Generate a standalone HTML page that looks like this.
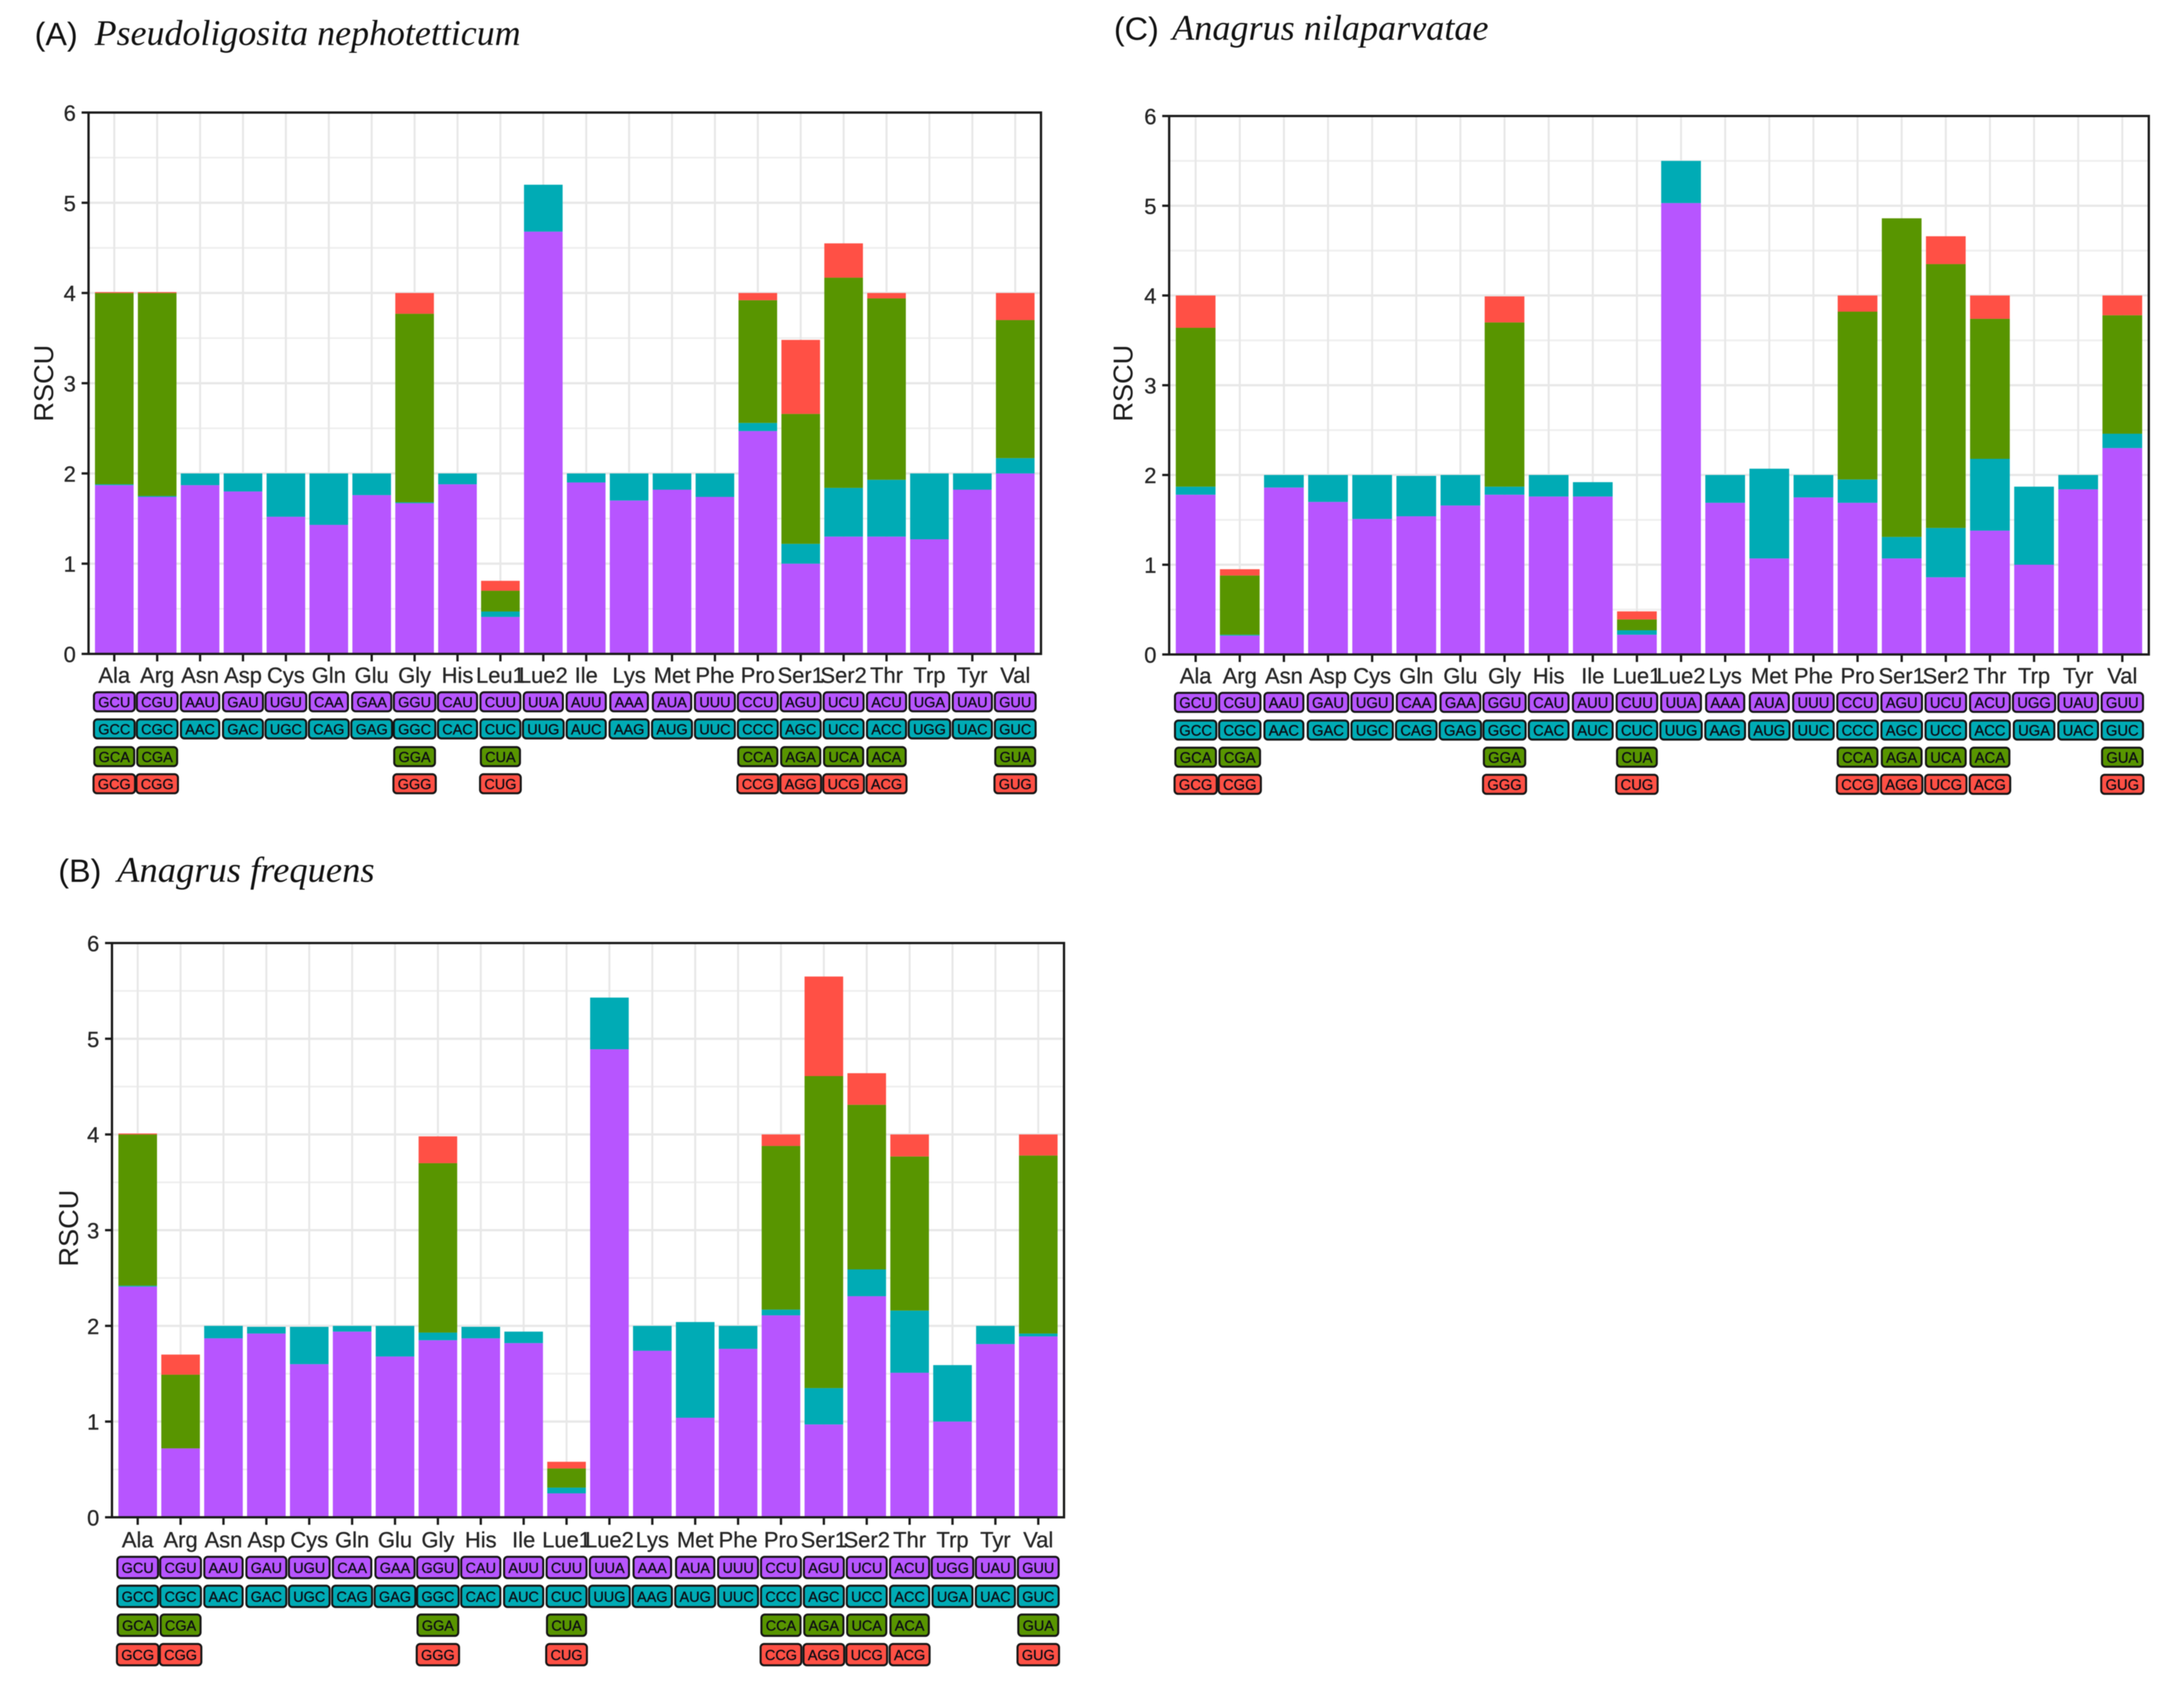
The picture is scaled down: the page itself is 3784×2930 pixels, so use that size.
<!DOCTYPE html>
<html lang="en">
<head>
<meta charset="utf-8">
<title>RSCU charts</title>
<style>
html,body{margin:0;padding:0;background:#fff;}
svg{display:block;filter:blur(0.7px);}
.ttl{font-family:"Liberation Sans",sans-serif;font-size:56px;fill:#111;}
.sp{font-family:"Liberation Serif",serif;font-style:italic;font-size:62px;fill:#111;}
text{font-family:"Liberation Sans",sans-serif;}
</style>
</head>
<body>
<svg id="fig" xmlns="http://www.w3.org/2000/svg" width="3784" height="2930" viewBox="0 0 3784 2930">
<rect x="0" y="0" width="3784" height="2930" fill="#ffffff"/>
<text class="ttl" x="60" y="78">(A)</text>
<text class="sp" x="164" y="78" textLength="738" lengthAdjust="spacingAndGlyphs">Pseudoligosita nephotetticum</text>
<text class="ttl" x="1930" y="69">(C)</text>
<text class="sp" x="2031" y="69" textLength="548" lengthAdjust="spacingAndGlyphs">Anagrus nilaparvatae</text>
<text class="ttl" x="101" y="1528">(B)</text>
<text class="sp" x="203" y="1528" textLength="446" lengthAdjust="spacingAndGlyphs">Anagrus frequens</text>
</svg>
<script>
// ----- Shared tick labels -----
const yTicks = [0, 1, 2, 3, 4, 5, 6];
const yMinorTicks = [0.5, 1.5, 2.5, 3.5, 4.5, 5.5];

// ----- Panel A: Pseudoligosita nephotetticum -----
const categoriesA = ["Ala","Arg","Asn","Asp","Cys","Gln","Glu","Gly","His","Leu1","Lue2","Ile","Lys","Met","Phe","Pro","Ser1","Ser2","Thr","Trp","Tyr","Val"];
const purpleA = [1.87,1.74,1.87,1.8,1.52,1.43,1.76,1.67,1.88,0.41,4.68,1.9,1.7,1.82,1.74,2.47,1.0,1.3,1.3,1.27,1.82,2.0];
const tealA = [0.01,0.01,0.13,0.2,0.48,0.57,0.24,0.01,0.12,0.06,0.52,0.1,0.3,0.18,0.26,0.09,0.22,0.54,0.63,0.73,0.18,0.17];
const greenA = [2.12,2.25,0,0,0,0,0,2.09,0,0.23,0,0,0,0,0,1.36,1.44,2.33,2.01,0,0,1.53];
const redA = [0.01,0.01,0,0,0,0,0,0.23,0,0.11,0,0,0,0,0,0.08,0.82,0.38,0.06,0,0,0.3];
const codon1A = ["GCU","CGU","AAU","GAU","UGU","CAA","GAA","GGU","CAU","CUU","UUA","AUU","AAA","AUA","UUU","CCU","AGU","UCU","ACU","UGA","UAU","GUU"];
const codon2A = ["GCC","CGC","AAC","GAC","UGC","CAG","GAG","GGC","CAC","CUC","UUG","AUC","AAG","AUG","UUC","CCC","AGC","UCC","ACC","UGG","UAC","GUC"];
const codon3A = ["GCA","CGA","","","","","","GGA","","CUA","","","","","","CCA","AGA","UCA","ACA","","","GUA"];
const codon4A = ["GCG","CGG","","","","","","GGG","","CUG","","","","","","CCG","AGG","UCG","ACG","","","GUG"];

// ----- Panel C: Anagrus nilaparvatae -----
const categoriesC = ["Ala","Arg","Asn","Asp","Cys","Gln","Glu","Gly","His","Ile","Lue1","Lue2","Lys","Met","Phe","Pro","Ser1","Ser2","Thr","Trp","Tyr","Val"];
const purpleC = [1.78,0.21,1.86,1.7,1.51,1.54,1.66,1.78,1.76,1.76,0.22,5.03,1.69,1.07,1.75,1.69,1.07,0.86,1.38,1.0,1.84,2.3];
const tealC = [0.09,0.01,0.14,0.3,0.49,0.45,0.34,0.09,0.24,0.16,0.05,0.47,0.31,1.0,0.25,0.26,0.24,0.55,0.8,0.87,0.16,0.16];
const greenC = [1.77,0.66,0,0,0,0,0,1.83,0,0,0.12,0,0,0,0,1.87,3.55,2.94,1.56,0,0,1.32];
const redC = [0.36,0.07,0,0,0,0,0,0.29,0,0,0.09,0,0,0,0,0.18,0,0.31,0.26,0,0,0.22];
const codon1C = ["GCU","CGU","AAU","GAU","UGU","CAA","GAA","GGU","CAU","AUU","CUU","UUA","AAA","AUA","UUU","CCU","AGU","UCU","ACU","UGG","UAU","GUU"];
const codon2C = ["GCC","CGC","AAC","GAC","UGC","CAG","GAG","GGC","CAC","AUC","CUC","UUG","AAG","AUG","UUC","CCC","AGC","UCC","ACC","UGA","UAC","GUC"];
const codon3C = ["GCA","CGA","","","","","","GGA","","","CUA","","","","","CCA","AGA","UCA","ACA","","","GUA"];
const codon4C = ["GCG","CGG","","","","","","GGG","","","CUG","","","","","CCG","AGG","UCG","ACG","","","GUG"];

// ----- Panel B: Anagrus frequens -----
const categoriesB = ["Ala","Arg","Asn","Asp","Cys","Gln","Glu","Gly","His","Ile","Lue1","Lue2","Lys","Met","Phe","Pro","Ser1","Ser2","Thr","Trp","Tyr","Val"];
const purpleB = [2.41,0.72,1.87,1.92,1.6,1.94,1.68,1.85,1.87,1.82,0.25,4.89,1.74,1.04,1.76,2.11,0.97,2.31,1.51,1.0,1.81,1.89];
const tealB = [0.01,0,0.13,0.07,0.39,0.06,0.32,0.08,0.12,0.12,0.06,0.54,0.26,1.0,0.24,0.06,0.38,0.28,0.65,0.59,0.19,0.03];
const greenB = [1.58,0.77,0,0,0,0,0,1.77,0,0,0.2,0,0,0,0,1.71,3.26,1.72,1.61,0,0,1.86];
const redB = [0.01,0.21,0,0,0,0,0,0.28,0,0,0.07,0,0,0,0,0.12,1.04,0.33,0.23,0,0,0.22];
const codon1B = ["GCU","CGU","AAU","GAU","UGU","CAA","GAA","GGU","CAU","AUU","CUU","UUA","AAA","AUA","UUU","CCU","AGU","UCU","ACU","UGG","UAU","GUU"];
const codon2B = ["GCC","CGC","AAC","GAC","UGC","CAG","GAG","GGC","CAC","AUC","CUC","UUG","AAG","AUG","UUC","CCC","AGC","UCC","ACC","UGA","UAC","GUC"];
const codon3B = ["GCA","CGA","","","","","","GGA","","","CUA","","","","","CCA","AGA","UCA","ACA","","","GUA"];
const codon4B = ["GCG","CGG","","","","","","GGG","","","CUG","","","","","CCG","AGG","UCG","ACG","","","GUG"];

const NS = "http://www.w3.org/2000/svg";
const svgRoot = document.getElementById("fig");
const COLORS = {purple:"#b755ff", teal:"#00abb5", green:"#589500", red:"#ff5045"};
const LETTER_WIDTH = {A:0.667, C:0.722, G:0.778, U:0.722};

function mk(tag, parent, props) {
  const el = document.createElementNS(NS, tag);
  for (const k in props) el.setAttribute(k, props[k]);
  parent.appendChild(el);
  return el;
}

function drawPanel(p) {
  const n = p.categories.length;
  const step = (p.right - p.left) / (n + 0.2);
  const xScale = i => p.left + (i + 0.6) * step;
  const yScale = v => p.y0 - (v / 6) * (p.y0 - p.y6);
  const barW = step * 0.9;

  const g = mk("g", svgRoot, {});
  
  

  yMinorTicks.forEach(t => {
    const l = mk("line", g, {x1:p.left, x2:p.right, y1:yScale(t), y2:yScale(t), stroke:"#eeeeee", "stroke-width":3});
    
    
  });
  yTicks.forEach(t => {
    const l = mk("line", g, {x1:p.left, x2:p.right, y1:yScale(t), y2:yScale(t), stroke:"#e8e8e8", "stroke-width":4});
    
    
  });
  p.categories.forEach((c, i) => {
    const l = mk("line", g, {x1:xScale(i), x2:xScale(i), y1:p.y6, y2:p.y0, stroke:"#e8e8e8", "stroke-width":3.5});
    
    
  });

  p.categories.forEach((c, i) => {
    let base = 0;
    [["purple", p.purple[i]], ["teal", p.teal[i]], ["green", p.green[i]], ["red", p.red[i]]].forEach(s => {
      const v = s[1];
      if (v > 0) {
        const r = mk("rect", g, {x:xScale(i) - barW / 2, y:yScale(base + v), width:barW, height:yScale(base) - yScale(base + v), fill:COLORS[s[0]]});
        
        
      }
      base += v;
    });
  });

  const border = mk("rect", g, {x:p.left, y:p.y6, width:p.right - p.left, height:p.y0 - p.y6, fill:"none", stroke:"#1a1a1a", "stroke-width":4});
  
  

  yTicks.forEach(t => {
    const tk = mk("line", g, {x1:p.left - 12, x2:p.left, y1:yScale(t), y2:yScale(t), stroke:"#1a1a1a", "stroke-width":4});
    
    
    const tx = mk("text", g, {x:p.left - 22, y:yScale(t) + 14, "text-anchor":"end", "font-size":p.axisFont, fill:"#262626", stroke:"#262626", "stroke-width":0.5});
    
    
    tx.textContent = t;
  });

  p.categories.forEach((c, i) => {
    const tk = mk("line", g, {x1:xScale(i), x2:xScale(i), y1:p.y0, y2:p.y0 + 13, stroke:"#1a1a1a", "stroke-width":4});
    
    
    const tx = mk("text", g, {x:xScale(i), y:p.y0 + p.xLabelDy, "text-anchor":"middle", "font-size":p.axisFont, fill:"#262626", stroke:"#262626", "stroke-width":0.5});
    
    
    tx.textContent = c;
  });

  const yTitle = mk("text", g, {x:0, y:0, transform:"translate(" + p.titleX + "," + p.titleY + ") rotate(-90)", "text-anchor":"middle", "font-size":47, fill:"#1a1a1a"});
  
  
  yTitle.textContent = "RSCU";

  const rowColors = ["purple", "teal", "green", "red"];
  [p.codon1, p.codon2, p.codon3, p.codon4].forEach((row, ri) => {
    row.forEach((codon, i) => {
      if (!codon) return;
      let tw = 0;
      for (const ch of codon) tw += LETTER_WIDTH[ch] * p.codonFont;
      const w = tw + 15;
      const cy = p.rowY[ri];
      const r = mk("rect", g, {x:xScale(i) - w / 2, y:cy - p.boxH / 2, width:w, height:p.boxH, rx:6, ry:6, fill:COLORS[rowColors[ri]], stroke:"#141414", "stroke-width":3.5});
      
      
      const t = mk("text", g, {x:xScale(i), y:cy + p.codonFont * 0.37, "text-anchor":"middle", "font-size":p.codonFont, fill:"#0c0c14", stroke:"#0c0c14", "stroke-width":0.5});
      
      
      t.textContent = codon;
    });
  });
}

drawPanel({id:"panel-a", left:153.4, right:1803.6, y6:195, y0:1133, axisFont:38, xLabelDy:50, titleX:92, titleY:664, codonFont:25, boxH:33, rowY:[1216,1263,1311,1358],
  categories:categoriesA, purple:purpleA, teal:tealA, green:greenA, red:redA, codon1:codon1A, codon2:codon2A, codon3:codon3A, codon4:codon4A});
drawPanel({id:"panel-c", left:2025.7, right:3723, y6:201, y0:1134, axisFont:38, xLabelDy:50, titleX:1962, titleY:664, codonFont:25.5, boxH:33, rowY:[1217,1265,1312,1359],
  categories:categoriesC, purple:purpleC, teal:tealC, green:greenC, red:redC, codon1:codon1C, codon2:codon2C, codon3:codon3C, codon4:codon4C});
drawPanel({id:"panel-b", left:194, right:1843.5, y6:1634, y0:2629, axisFont:38, xLabelDy:52, titleX:135, titleY:2128, codonFont:25, boxH:37, rowY:[2716,2766,2816,2867],
  categories:categoriesB, purple:purpleB, teal:tealB, green:greenB, red:redB, codon1:codon1B, codon2:codon2B, codon3:codon3B, codon4:codon4B});
</script>
</body>
</html>
